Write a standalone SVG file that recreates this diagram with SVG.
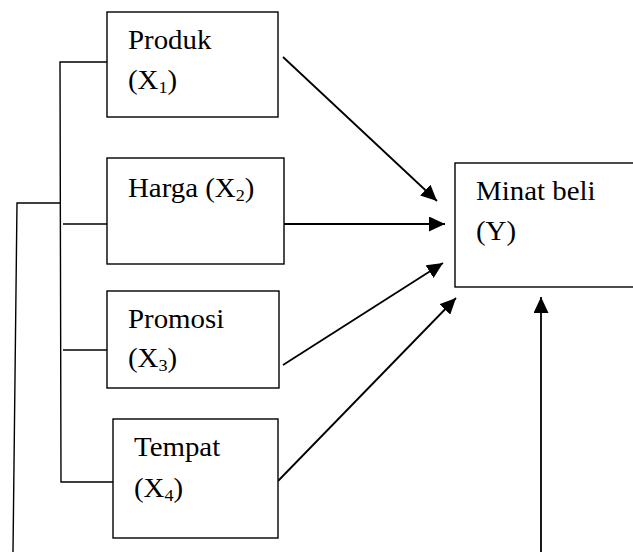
<svg xmlns="http://www.w3.org/2000/svg" width="633" height="552" viewBox="0 0 633 552">
  <style>
    .box { fill: #ffffff; stroke: #000000; stroke-width: 1.4; }
    .wire { fill: none; stroke: #000000; stroke-width: 1.4; }
    .arrow { fill: none; stroke: #000000; stroke-width: 1.8; marker-end: url(#head); }
    .label { font-family: "Liberation Serif", "Times New Roman", serif; font-size: 27px; fill: #000000; }
    .sub { font-size: 17px; }
  </style>
  <defs>
    <marker id="head" markerUnits="userSpaceOnUse" markerWidth="16" markerHeight="15" refX="16" refY="7.5" orient="auto">
      <path d="M0,0 L16,7.5 L0,15 Z" fill="#000000"/>
    </marker>
  </defs>
  <rect width="633" height="552" fill="#ffffff"/>

  <g id="connectors">
    <!-- outer feedback line on the far left -->
    <polyline class="wire" points="13,552 17,203 60,203"/>
    <!-- bus joining the four input boxes -->
    <polyline class="wire" points="107,62 60,62 61,482 113,482"/>
    <line class="wire" x1="63" y1="224" x2="107" y2="224"/>
    <line class="wire" x1="63" y1="350" x2="107" y2="350"/>
    <!-- arrows into Minat beli -->
    <line class="arrow" x1="283" y1="57" x2="437" y2="201"/>
    <line class="arrow" x1="284" y1="224" x2="445" y2="224"/>
    <line class="arrow" x1="283" y1="365" x2="443" y2="263"/>
    <line class="arrow" x1="278" y1="481" x2="456" y2="298"/>
    <line class="arrow" x1="541" y1="552" x2="541" y2="297"/>
  </g>

  <g id="produk">
    <rect class="box" x="107" y="12" width="171" height="105"/>
    <text class="label" transform="translate(128,49) scale(1.07,1)">Produk</text>
    <text class="label" transform="translate(128,89) scale(1.07,1)">(X<tspan class="sub" dy="4">1</tspan><tspan dy="-4">)</tspan></text>
  </g>

  <g id="harga">
    <rect class="box" x="107" y="158" width="177" height="106"/>
    <text class="label" transform="translate(128,197) scale(1.07,1)">Harga (X<tspan class="sub" dy="4">2</tspan><tspan dy="-4">)</tspan></text>
  </g>

  <g id="promosi">
    <rect class="box" x="107" y="291" width="172" height="97"/>
    <text class="label" transform="translate(128,328) scale(1.07,1)">Promosi</text>
    <text class="label" transform="translate(128,367) scale(1.07,1)">(X<tspan class="sub" dy="4">3</tspan><tspan dy="-4">)</tspan></text>
  </g>

  <g id="tempat">
    <rect class="box" x="113" y="419" width="165" height="119"/>
    <text class="label" transform="translate(134,456) scale(1.07,1)">Tempat</text>
    <text class="label" transform="translate(134,497) scale(1.07,1)">(X<tspan class="sub" dy="4">4</tspan><tspan dy="-4">)</tspan></text>
  </g>

  <g id="minat-beli">
    <rect class="box" x="455" y="163" width="190" height="124"/>
    <text class="label" transform="translate(476,200) scale(1.07,1)">Minat beli</text>
    <text class="label" transform="translate(476,240) scale(1.07,1)">(Y)</text>
  </g>
</svg>
